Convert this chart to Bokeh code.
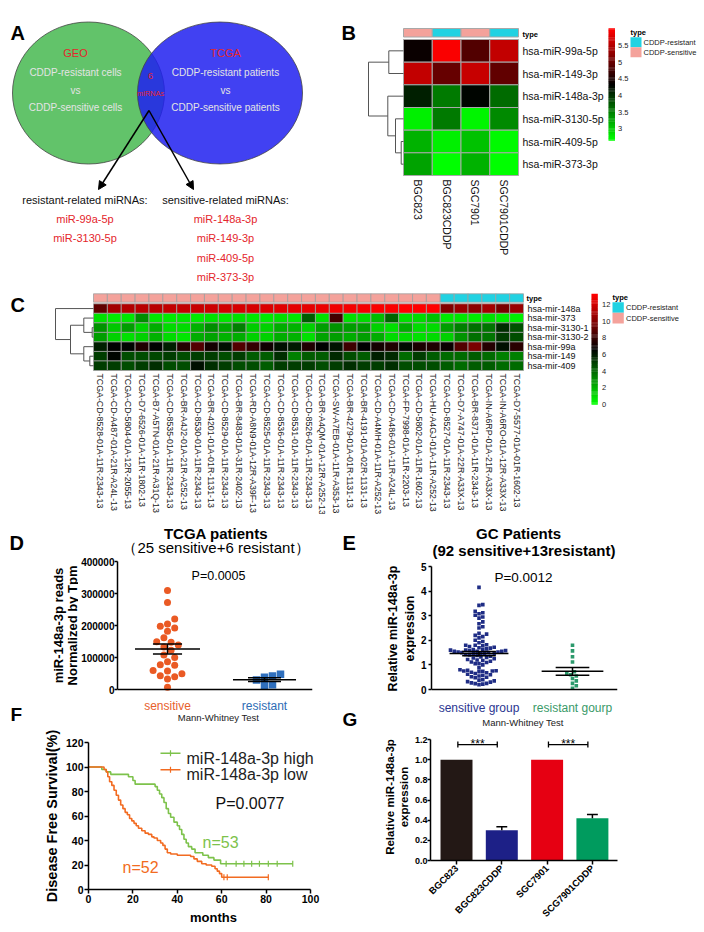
import math
import numpy as np
from bokeh.plotting import figure
from bokeh.models import Range1d, Label, Arrow, NormalHead, Span, ColumnDataSource, FixedTicker, BasicTickFormatter, PrintfTickFormatter
from bokeh.layouts import row, column
from bokeh.transform import linear_cmap
from bokeh.core.properties import value
from bokeh.embed import file_html
from bokeh.resources import INLINE

FONT = "Liberation Sans"
RED_TXT = "#e4262c"

# ---------------- Panel A data ----------------
venn_sets = ["GEO", "TCGA"]
venn_left_desc = ["CDDP-resistant cells", "vs", "CDDP-sensitive cells"]
venn_right_desc = ["CDDP-resistant patients", "vs", "CDDP-sensitive patients"]
venn_overlap = ["6", "miRNAs"]
resistant_head = "resistant-related miRNAs:"
sensitive_head = "sensitive-related miRNAs:"
resistant_related = ["miR-99a-5p", "miR-3130-5p"]
sensitive_related = ["miR-148a-3p", "miR-149-3p", "miR-409-5p", "miR-373-3p"]

# ---------------- Panel B data ----------------
b_cols = ["BGC823", "BGC823CDDP", "SGC7901", "SGC7901CDDP"]
b_types = ["CDDP-sensitive", "CDDP-resistant", "CDDP-sensitive", "CDDP-resistant"]
b_rows = ["hsa-miR-99a-5p", "hsa-miR-149-3p", "hsa-miR-148a-3p", "hsa-miR-3130-5p", "hsa-miR-409-5p", "hsa-miR-373-3p"]
b_vals = [
    [4.40, 5.95, 4.85, 5.60],
    [5.58, 4.99, 5.62, 4.96],
    [4.12, 3.53, 4.30, 3.63],
    [2.75, 3.53, 2.72, 3.42],
    [3.17, 2.75, 3.06, 2.70],
    [3.28, 2.65, 3.17, 2.67],
]
b_merges = [(4, 5), (0, 1), (3, 6), (2, 8), (7, 9)]
b_heights = [2.3, 14.7, 8.0, 15.7, 35.0]
b_ticks = [3, 3.5, 4, 4.5, 5, 5.5]
b_low, b_high = 2.65, 6.01

# ---------------- Panel C data ----------------
c_cols = ["TCGA-CD-8528-01A-11R-2343-13", "TCGA-CD-A487-01A-21R-A24L-13", "TCGA-CD-5804-01A-12R-2055-13",
          "TCGA-D7-6526-01A-11R-1802-13", "TCGA-B7-A5TN-01A-21R-A31Q-13", "TCGA-CD-8535-01A-11R-2343-13",
          "TCGA-BR-A4J2-01A-21R-A252-13", "TCGA-CD-8530-01A-11R-2343-13", "TCGA-BR-4201-01A-01R-1131-13",
          "TCGA-CD-8529-01A-11R-2343-13", "TCGA-BR-8483-01A-31R-2402-13", "TCGA-RD-A8N9-01A-12R-A39F-13",
          "TCGA-CD-8525-01A-11R-2343-13", "TCGA-CD-8536-01A-11R-2343-13", "TCGA-CD-8531-01A-11R-2343-13",
          "TCGA-CD-8526-01A-11R-2343-13", "TCGA-BR-A4QM-01A-12R-A252-13", "TCGA-SW-A7EB-01A-11R-A353-13",
          "TCGA-BR-4279-01A-01R-1131-13", "TCGA-BR-4191-01A-02R-1131-13", "TCGA-CD-A4MH-01A-11R-A252-13",
          "TCGA-CD-A486-01A-11R-A24L-13", "TCGA-FP-7998-01A-11R-2203-13", "TCGA-CD-5802-01A-11R-1602-13",
          "TCGA-HU-A4GJ-01A-11R-A252-13", "TCGA-CD-8527-01A-11R-2343-13", "TCGA-D7-A747-01A-22R-A33X-13",
          "TCGA-BR-8371-01A-11R-2343-13", "TCGA-IN-A6RP-01A-21R-A33X-13", "TCGA-IN-A6RO-01A-12R-A33X-13",
          "TCGA-D7-5577-01A-01R-1602-13"]
c_types = ["CDDP-sensitive"] * 25 + ["CDDP-resistant"] * 6
c_rows = ["hsa-mir-148a", "hsa-mir-373", "hsa-mir-3130-1", "hsa-mir-3130-2", "hsa-mir-99a", "hsa-mir-149", "hsa-mir-409"]
c_vals = [
    [9.1, 10.9, 11.2, 11.3, 11.4, 11.6, 11.6, 11.8, 11.9, 12.0, 12.1, 12.2, 12.3, 12.4, 12.5, 12.6, 12.7, 12.8, 12.9, 13.0, 13.1, 13.1, 13.2, 13.2, 13.2, 9.9, 10.6, 10.2, 10.8, 9.8, 10.6],
    [0.8, 0.6, 0.7, 3.0, 0.7, 0.6, 0.7, 0.6, 0.8, 0.7, 0.8, 0.7, 0.6, 0.8, 0.7, 4.3, 0.9, 8.4, 0.8, 1.0, 1.8, 4.0, 0.9, 1.0, 1.6, 0.6, 0.7, 0.6, 0.8, 0.6, 0.5],
    [2.8, 1.5, 2.5, 1.3, 2.2, 1.0, 1.0, 2.0, 3.0, 2.3, 3.3, 1.4, 1.2, 2.2, 2.0, 1.2, 2.6, 2.8, 2.6, 2.5, 1.2, 0.9, 2.2, 1.0, 1.0, 2.6, 3.3, 3.8, 3.6, 5.5, 4.5],
    [2.5, 1.2, 0.9, 1.2, 2.0, 1.0, 0.7, 2.2, 2.4, 2.0, 2.2, 1.3, 1.2, 2.2, 2.0, 0.8, 2.4, 2.6, 2.2, 2.6, 2.2, 1.0, 1.0, 0.9, 1.0, 1.2, 2.8, 3.8, 3.6, 5.0, 4.6],
    [5.8, 6.6, 6.5, 7.4, 6.6, 5.9, 7.5, 8.7, 7.2, 6.2, 8.7, 8.0, 7.0, 6.2, 6.0, 7.4, 6.6, 6.1, 8.2, 6.7, 7.2, 7.4, 6.4, 7.3, 7.4, 6.9, 8.8, 9.8, 7.6, 6.2, 7.7],
    [5.1, 6.5, 4.7, 4.7, 4.8, 5.1, 4.7, 5.1, 5.1, 4.7, 5.1, 4.3, 4.3, 5.5, 3.4, 4.3, 4.3, 5.6, 4.7, 4.3, 5.9, 5.6, 3.9, 5.1, 4.3, 3.9, 3.9, 4.3, 3.9, 3.4, 3.4],
    [5.1, 5.1, 4.7, 5.1, 5.5, 4.7, 4.7, 6.3, 5.5, 5.1, 4.7, 4.7, 4.3, 5.1, 5.1, 5.1, 4.7, 5.1, 5.5, 5.1, 5.1, 5.5, 4.7, 4.7, 4.7, 4.3, 3.9, 4.3, 4.3, 3.9, 3.9],
]
c_merges = [(2, 3), (5, 6), (1, 7), (4, 8), (9, 10), (0, 11)]
c_heights = [1.3, 3.7, 9.7, 9.7, 23.0, 38.0]
c_ticks = [0, 2, 4, 6, 8, 10, 12]
c_low, c_high = 0.0, 13.27

TYPE_COLORS = {"CDDP-resistant": "#21d2e2", "CDDP-sensitive": "#f4a29b"}
legend_types = ["CDDP-resistant", "CDDP-sensitive"]

# ---------------- Panel D data ----------------
d_cats = ["sensitive", "resistant"]
d_cat_colors = ["#e8602c", "#2d6cb5"]
d_sens = [309000, 272000, 220000, 205000, 198000, 192000, 182000, 162000, 149000, 148000, 139000, 133000, 123000,
          108000, 100000, 87000, 77000, 76000, 59000, 58000, 49000, 43000, 40000, 33000, 7000]
d_res = [48000, 42000, 38000, 30000, 15000, 12000]
d_yticks = [0, 100000, 200000, 300000, 400000]

# ---------------- Panel E data ----------------
e_cats = ["sensitive group", "resistant gourp"]
e_cat_colors = ["#2b3591", "#3a9a68"]
e_sens = [4.15, 3.45, 3.42, 3.18, 3.12, 3.08, 3.02, 2.95, 2.90, 2.75, 2.67, 2.55, 2.50, 2.28, 2.25, 2.20, 2.15, 2.10, 2.00, 1.95, 1.90,
          1.82, 1.80, 1.80, 1.78, 1.75, 1.72, 1.70, 1.68, 1.65, 1.62, 1.62, 1.60, 1.58, 1.58, 1.55, 1.55, 1.52, 1.52, 1.50, 1.48,
          1.48, 1.45, 1.42, 1.40, 1.38, 1.35, 1.32, 1.30, 1.28, 1.25, 1.22, 1.20, 1.18, 1.15,
          1.10, 1.05, 1.00, 1.45, 1.50, 1.55, 1.60, 0.80, 0.78, 0.76, 0.75, 0.74, 0.72, 0.70, 0.68, 0.65, 0.62, 0.60, 0.58,
          0.55, 0.52, 0.50, 0.48, 1.05, 1.12, 0.40, 0.38, 0.35, 0.32, 0.30, 0.88, 0.27, 0.25, 0.24, 0.22, 0.20, 0.75]
e_res = [1.80, 1.57, 1.33, 1.12, 0.72, 0.65, 0.60, 0.55, 0.45, 0.35, 0.25, 0.15, 0.05]
e_yticks = [0, 1, 2, 3, 4, 5]

# ---------------- Panel F data ----------------
f_high_t = [0, 6, 8, 10, 18, 20, 21, 30, 31, 32, 33, 34, 35, 36, 37, 38.5, 40, 41, 42, 43, 44, 45, 46.5, 48, 51.5, 54, 56.5, 59.5, 92]
f_high_s = [100, 98, 96, 94, 92, 89, 86, 84, 81, 78, 75, 71, 66, 62, 59, 55, 52, 49, 45, 41, 38, 35, 33, 30, 28, 26, 24, 21, 21]
f_high_cens = [62, 66.5, 70, 73.5, 77, 81, 85, 92]
f_low_t = [0, 7, 8, 8.7, 9.5, 10.5, 11.5, 12.5, 13.5, 14.5, 15.5, 16.5, 17.5, 18.5, 19.5, 20.5, 21.5, 22.5, 24, 25.5, 27,
           28.5, 29.5, 31, 32.5, 33.5, 34.5, 35.5, 37, 40, 46, 47.5, 49, 51, 53, 55.5, 57, 58, 59, 60, 81]
f_low_s = [100, 98, 96, 92, 88, 85, 81, 77, 73, 69, 66, 63, 61, 58, 56, 54, 52, 50, 48, 46, 45,
           43, 42, 40, 38, 36, 33, 30, 29, 28, 27, 25, 23, 21, 20, 19, 17, 15, 13, 10, 10]
f_low_cens = [61, 62.5, 81]
f_labels = ["miR-148a-3p high", "miR-148a-3p low"]
f_n = ["n=53", "n=52"]
f_xticks = [0, 20, 40, 60, 80, 100]
f_yticks = [0, 20, 40, 60, 80, 100, 120]

# ---------------- Panel G data ----------------
g_cats = ["BGC823", "BGC823CDDP", "SGC7901", "SCG7901CDDP"]
g_vals = [1.0, 0.30, 1.0, 0.42]
g_err = [0.0, 0.035, 0.0, 0.035]
g_colors = ["#231815", "#1d2087", "#e60012", "#009b5e"]
g_sig = [(0, 1, "***"), (2, 3, "***")]
g_yticks = [0, 0.2, 0.4, 0.6, 0.8, 1.0, 1.2]


# ---------------- helpers ----------------
def gbr_palette(n=101):
    out = []
    for i in range(n):
        t = i / (n - 1)
        if t <= 0.5:
            out.append("#%02x%02x%02x" % (0, int(round(255 * (1 - 2 * t))), 0))
        else:
            out.append("#%02x%02x%02x" % (int(round(255 * (2 * t - 1))), 0, 0))
    return out


PAL = gbr_palette()


def canvas_fig(W, H, xr, yr):
    p = figure(width=W, height=H, x_range=Range1d(*xr), y_range=Range1d(*yr), x_axis_type=None, y_axis_type=None,
               min_border=0, toolbar_location=None, output_backend="svg", title=None)
    p.outline_line_color = None
    return p


def strip(ox, oy, W, H):
    return canvas_fig(W, H, (ox, ox + W), (oy + H, oy))


def axis_fig(W, H, xr, yr, mb):
    p = figure(width=W, height=H, x_range=Range1d(*xr), y_range=Range1d(*yr), min_border_left=mb[0],
               min_border_right=mb[1], min_border_top=mb[2], min_border_bottom=mb[3],
               toolbar_location=None, output_backend="svg", title=None)
    p.outline_line_color = None
    p.xgrid.grid_line_color = None
    p.ygrid.grid_line_color = None
    for ax in p.axis:
        ax.axis_line_color = "black"
        ax.axis_line_width = 1.5
        ax.major_tick_line_color = "black"
        ax.major_tick_line_width = 1.5
        ax.major_tick_in = 0
        ax.major_tick_out = 4
        ax.minor_tick_line_color = None
        ax.major_label_text_font = FONT
        ax.major_label_text_font_style = "bold"
        ax.major_label_text_font_size = "10px"
        ax.major_label_text_color = "black"
        ax.major_label_standoff = 2
        ax.axis_label_text_font = FONT
        ax.axis_label_text_font_style = "bold"
        ax.axis_label_text_color = "black"
    return p


def lab(p, orig, x, y, text, size, color="black", bold=False, align="left", baseline="alphabetic", angle=0.0):
    ox, oy = orig
    p.add_layout(Label(x=x - ox, y=y - oy, x_units="canvas", y_units="canvas", text=text, text_font=FONT,
                       text_font_size=f"{size}px", text_font_style=("bold" if bold else "normal"),
                       text_color=color, text_align=align, text_baseline=baseline, angle=angle))


def gtext(p, xs, ys, texts, size, color="black", bold=False, align="left", baseline="middle", angle=0.0):
    p.text(x=xs, y=ys, text=texts, text_font=value(FONT), text_font_size=f"{size}px",
           text_font_style=("bold" if bold else "normal"), text_color=color, text_align=align,
           text_baseline=baseline, angle=angle)


def draw_heatmap(p, vals, low, high, grid_col, lw):
    nr, nc = len(vals), len(vals[0])
    src = ColumnDataSource(dict(
        x=[j + 0.5 for i in range(nr) for j in range(nc)],
        y=[i + 0.5 for i in range(nr) for j in range(nc)],
        v=[vals[i][j] for i in range(nr) for j in range(nc)]))
    p.rect("x", "y", 1, 1, source=src, fill_color=linear_cmap("v", PAL, low, high), line_color=grid_col, line_width=lw)


def draw_annotation(p, types, y0, y1, grid_col, lw):
    nc = len(types)
    p.rect(x=[j + 0.5 for j in range(nc)], y=[(y0 + y1) / 2] * nc, width=1, height=abs(y1 - y0),
           fill_color=[TYPE_COLORS[t] for t in types], line_color=grid_col, line_width=lw)


def draw_dendro(p, n, merges, heights, px_per_unit):
    pos = {i: i + 0.5 for i in range(n)}
    hgt = {i: 0.0 for i in range(n)}
    x0, y0, x1, y1 = [], [], [], []
    for k, (a, b) in enumerate(merges):
        h = heights[k]
        for c in (a, b):
            x0.append(-hgt[c] / px_per_unit); y0.append(pos[c]); x1.append(-h / px_per_unit); y1.append(pos[c])
        x0.append(-h / px_per_unit); y0.append(pos[a]); x1.append(-h / px_per_unit); y1.append(pos[b])
        pos[n + k] = (pos[a] + pos[b]) / 2
        hgt[n + k] = h
    p.segment(x0=x0, y0=y0, x1=x1, y1=y1, line_color="#555555", line_width=1)


def draw_colorbar(p, X, Y, px0, px1, py_top, py_bot, low, high, ticks, label_px, fs):
    n = len(PAL)
    h = (py_bot - py_top) / n
    ys = [Y(py_bot - (k + 0.5) * h) for k in range(n)]
    p.rect(x=[X((px0 + px1) / 2)] * n, y=ys, width=X(px1) - X(px0), height=abs(Y(py_top + h) - Y(py_top)) * 1.3,
           fill_color=PAL, line_color=None)
    ty = [Y(py_bot - (t - low) / (high - low) * (py_bot - py_top)) for t in ticks]
    gtext(p, [X(label_px)] * len(ticks), ty, ["%g" % t for t in ticks], fs, color="#222222")


def draw_type_legend(p, X, Y, px, py_title, py_top, sw_w, sw_h, label_px, fs):
    gtext(p, [X(px)], [Y(py_title)], ["type"], fs, bold=True)
    for k, t in enumerate(legend_types):
        yc = py_top + (k + 0.5) * sw_h
        p.rect(x=[X(px + sw_w / 2)], y=[Y(yc)], width=X(px + sw_w) - X(px), height=abs(Y(py_top + sw_h) - Y(py_top)),
               fill_color=TYPE_COLORS[t], line_color=None)
        gtext(p, [X(label_px)], [Y(yc)], [t], fs, color="#222222")


def swarm(vals, ppu, diam, step):
    vals = np.asarray(vals, float)
    order = np.argsort(vals, kind="stable")
    placed = []
    offs = np.zeros(len(vals))
    for i in order:
        y = vals[i] * ppu
        k = 0
        while True:
            m = (k + 1) // 2
            cand = 0.0 if k == 0 else (m * step if k % 2 == 1 else -m * step)
            if all((cand - qx) ** 2 + (y - qy) ** 2 >= diam ** 2 for qx, qy in placed):
                break
            k += 1
        placed.append((cand, y))
        offs[i] = cand
    return offs


def mean_sem(p, xc, vals, hw, sw):
    v = np.asarray(vals, float)
    m = v.mean()
    s = v.std(ddof=1) / math.sqrt(len(v))
    p.segment(x0=[xc - hw, xc - sw, xc - sw, xc], y0=[m, m + s, m - s, m - s],
              x1=[xc + hw, xc + sw, xc + sw, xc], y1=[m, m + s, m - s, m + s], line_color="black", line_width=1.5)


def surv_at(ts, ss, t):
    idx = max(i for i in range(len(ts)) if ts[i] <= t)
    return ss[idx]


# ================= Panel A (page x 0..336, y 0..290) =================
pA = strip(0, 0, 336, 290)
pA.ellipse(x=[88], y=[92.5], width=[152], height=[142], fill_color="#62c36a", line_color="#444444", line_width=0.8)
pA.ellipse(x=[219.5], y=[92.5], width=[165], height=[142], fill_color="#2020f0", fill_alpha=0.85,
           line_color="#444444", line_width=0.8)
gtext(pA, [75, 225], [52, 52], venn_sets, 11, color=RED_TXT, align="center")
gtext(pA, [75] * 3, [72, 90, 107], venn_left_desc, 10, color="#e4e4e4", align="center")
gtext(pA, [225] * 3, [72, 90, 107], venn_right_desc, 10, color="#e4e4e4", align="center")
gtext(pA, [150], [75], [venn_overlap[0]], 9, color=RED_TXT, align="center")
gtext(pA, [150], [93], [venn_overlap[1]], 7.5, color=RED_TXT, align="center")
for xe in (98, 193):
    pA.add_layout(Arrow(end=NormalHead(size=8, fill_color="black", line_color="black"),
                        x_start=148.5, y_start=110, x_end=xe, y_end=189, line_width=1.5, line_color="black"))
gtext(pA, [84.5], [199], [resistant_head], 11, color="#111111", align="center")
gtext(pA, [225], [199], [sensitive_head], 11, color="#111111", align="center")
gtext(pA, [84.5] * len(resistant_related), [218 + 19.3 * k for k in range(len(resistant_related))],
      resistant_related, 11, color=RED_TXT, align="center")
gtext(pA, [225] * len(sensitive_related), [218 + 19.5 * k for k in range(len(sensitive_related))],
      sensitive_related, 11, color=RED_TXT, align="center")
lab(pA, (0, 0), 10, 32, "A", 20, bold=True)

# ================= Panel B (page x 336..704, y 0..290) =================
bx = lambda px: (px - 403.0) / 28.75
by = lambda py: (py - 39.0) / 22.667
pB = canvas_fig(368, 290, (bx(336), bx(704)), (by(290), by(0)))
draw_heatmap(pB, b_vals, b_low, b_high, "#a8a8a8", 1)
draw_annotation(pB, b_types, by(28), by(36.5), "#a8a8a8", 1)
draw_dendro(pB, len(b_rows), b_merges, b_heights, 28.75)
gtext(pB, [bx(522)] * len(b_rows), [i + 0.5 for i in range(len(b_rows))], b_rows, 10.5, color="#111111")
gtext(pB, [j + 0.5 for j in range(len(b_cols))], [by(179)] * len(b_cols), b_cols, 10.5, color="#111111",
      angle=-math.pi / 2)
gtext(pB, [bx(522)], [by(33.5)], ["type"], 7.5, bold=True)
draw_colorbar(pB, bx, by, 608, 614.5, 28, 140, b_low, b_high, b_ticks, 617.5, 7.5)
draw_type_legend(pB, bx, by, 630, 31.5, 36.7, 11, 10, 643, 7.5)
lab(pB, (336, 0), 341, 32, "B", 20, bold=True)

# ================= Panel C (page x 0..704, y 290..514) =================
cx = lambda px: (px - 93.0) / 13.871
cy = lambda py: (py - 303.3) / 9.529
pC = canvas_fig(704, 224, (cx(0), cx(704)), (cy(514), cy(290)))
draw_heatmap(pC, c_vals, c_low, c_high, "#a0a0a0", 0.8)
draw_annotation(pC, c_types, cy(293.3), cy(301.7), "#a0a0a0", 0.8)
draw_dendro(pC, len(c_rows), c_merges, c_heights, 13.871)
gtext(pC, [cx(527)] * len(c_rows), [i + 0.5 for i in range(len(c_rows))], c_rows, 9, color="#111111")
gtext(pC, [j + 0.5 for j in range(len(c_cols))], [cy(373)] * len(c_cols), c_cols, 8.8, color="#222222",
      angle=-math.pi / 2)
gtext(pC, [cx(526)], [cy(297.5)], ["type"], 7.5, bold=True)
draw_colorbar(pC, cx, cy, 591, 597.3, 293.3, 404, c_low, c_high, c_ticks, 601.5, 7.5)
draw_type_legend(pC, cx, cy, 612, 296.5, 301.7, 11.3, 10.6, 625.5, 7.5)
lab(pC, (0, 290), 10, 304, "C", 20, bold=True)

# ================= Panel D (page x 0..340, y 514..724) =================
DL_ORIG = (0, 514)
pDl = strip(0, 514, 78, 210)
lab(pDl, DL_ORIG, 9, 542, "D", 20, bold=True)
lab(pDl, DL_ORIG, 58, 625, "miR-148a-3p reads", 13, bold=True, align="center", baseline="middle", angle=math.pi / 2)
lab(pDl, DL_ORIG, 71.5, 625, "Normalized by Tpm", 13, bold=True, align="center", baseline="middle", angle=math.pi / 2)
lab(pDl, DL_ORIG, 10, 713.5, "F", 19, bold=True, baseline="middle")

D_ORIG = (78, 514)
D_FL, D_X0, D_PPU = 117.0, 0.4845, 97.0          # frame left (page px), x at frame left, px per category
D_YPPU = 128.0 / 400000
pD = axis_fig(262, 210, (D_X0, D_X0 + (312 - D_FL) / D_PPU),
              (-(724 - 689) / D_YPPU, 400000 + (561 - 516) / D_YPPU), (39, 28, 2, 0))
pD.xaxis.visible = False
pD.add_layout(Span(location=0, dimension="width", line_color="black", line_width=1.5))
pD.yaxis.ticker = FixedTicker(ticks=d_yticks)
pD.yaxis.bounds = (0, 400000)
pD.yaxis.formatter = BasicTickFormatter(use_scientific=False)
pD.yaxis.major_tick_out = 3
pD.yaxis.major_label_standoff = 0
offs = swarm(d_sens, D_YPPU, 7.2, 3.6)
pD.scatter(x=1 + offs / D_PPU, y=d_sens, marker="circle", size=7, fill_color="#ea5a24", line_color=None)
offs = swarm(d_res, D_YPPU, 8.0, 4.0)
pD.scatter(x=2 + offs / D_PPU, y=d_res, marker="square", size=7.5, fill_color="#2f6fbd", line_color=None)
mean_sem(pD, 1, d_sens, 0.335, 0.15)
mean_sem(pD, 2, d_res, 0.325, 0.17)
lab(pD, D_ORIG, 215.5, 533, "TCGA patients", 15, bold=True, align="center")
lab(pD, D_ORIG, 215.5, 547, "（25 sensitive+6 resistant）", 15, align="center", baseline="middle")
lab(pD, D_ORIG, 218, 575, "P=0.0005", 12.5, align="center")
for i, (c, col) in enumerate(zip(d_cats, d_cat_colors)):
    lab(pD, D_ORIG, D_FL + (i + 1 - D_X0) * D_PPU, 705, c, 12, color=col, align="center")
lab(pD, D_ORIG, 218, 716.5, "Mann-Whitney Test", 9.5, color="#222222", align="center")

# ================= Panel E (page x 340..704, y 514..731) =================
EL_ORIG = (340, 514)
pEl = strip(340, 514, 76, 217)
lab(pEl, EL_ORIG, 342, 542, "E", 20, bold=True)
lab(pEl, EL_ORIG, 392.5, 628, "Relative miR-148a-3p", 12.5, bold=True, align="center", baseline="middle",
    angle=math.pi / 2)
lab(pEl, EL_ORIG, 409.5, 628, "expression", 12.5, bold=True, align="center", baseline="middle", angle=math.pi / 2)
lab(pEl, EL_ORIG, 342, 719, "G", 19, bold=True, baseline="middle")

E_ORIG = (416, 514)
E_FL, E_X0, E_PPU = 431.0, 0.492, 93.5
E_YPPU = 24.6
pE = axis_fig(288, 217, (E_X0, E_X0 + 186 / E_PPU), (-(731 - 689) / E_YPPU, 5 + (566 - 516) / E_YPPU),
              (15, 87, 2, 0))
pE.xaxis.visible = False
pE.add_layout(Span(location=0, dimension="width", line_color="black", line_width=1.5))
pE.yaxis.ticker = FixedTicker(ticks=e_yticks)
pE.yaxis.bounds = (0, 5)
pE.yaxis.major_tick_out = 3
offs = swarm(e_sens, E_YPPU, 3.8, 1.9)
pE.scatter(x=1 + offs / E_PPU, y=e_sens, marker="square", size=3.6, fill_color="#1f2d85", line_color=None)
offs = swarm(e_res, E_YPPU, 3.8, 1.9)
pE.scatter(x=2 + offs / E_PPU, y=e_res, marker="square", size=3.6, fill_color="#2c9a6c", line_color=None)
mean_sem(pE, 1, e_sens, 0.315, 0.18)
mean_sem(pE, 2, e_res, 0.33, 0.18)
lab(pE, E_ORIG, 518, 533, "GC Patients", 15, bold=True, align="center")
lab(pE, E_ORIG, 523.5, 550, "(92 sensitive+13resistant)", 15, bold=True, align="center")
lab(pE, E_ORIG, 523, 576.5, "P=0.0012", 13.5, align="center")
for i, (c, col) in enumerate(zip(e_cats, e_cat_colors)):
    lab(pE, E_ORIG, E_FL + (i + 1 - E_X0) * E_PPU, 707, c, 12, color=col, align="center")
lab(pE, E_ORIG, 522.5, 721.5, "Mann-Whitney Test", 9.5, color="#222222", align="center")

# ================= Panel F (page x 0..340, y 724..930) =================
F_ORIG = (0, 724)
pF = axis_fig(340, 206, (0, 250 / 2.22), (0, 120), (88, 2, 18, 41))
pF.xaxis.ticker = FixedTicker(ticks=f_xticks)
pF.xaxis.bounds = (0, 100)
pF.yaxis.ticker = FixedTicker(ticks=f_yticks)
for ax in pF.axis:
    ax.major_label_text_font_size = "10.5px"
    ax.major_label_standoff = 1
pF.xaxis.axis_label = "months"
pF.xaxis.axis_label_text_font_size = "13px"
pF.xaxis.axis_label_standoff = 4
pF.yaxis.axis_label = "Disease Free Survival(%)"
pF.yaxis.axis_label_text_font_size = "14.5px"
pF.yaxis.axis_label_standoff = 3
GREEN, ORANGE = "#7dc24b", "#f26b21"
pF.step(x=f_high_t, y=f_high_s, mode="after", line_color=GREEN, line_width=1.6)
pF.step(x=f_low_t, y=f_low_s, mode="after", line_color=ORANGE, line_width=1.6)
pF.scatter(x=f_high_cens, y=[surv_at(f_high_t, f_high_s, t) for t in f_high_cens], marker="dash",
           angle=math.pi / 2, size=6, line_color=GREEN, line_width=1.2)
pF.scatter(x=f_low_cens, y=[surv_at(f_low_t, f_low_s, t) for t in f_low_cens], marker="dash",
           angle=math.pi / 2, size=6, line_color=ORANGE, line_width=1.2)
fxd = lambda px: (px - 88.0) / 2.22
fyd = lambda py: (889.0 - py) / 1.225
for col, py in ((GREEN, 752.7), (ORANGE, 769.3)):
    pF.segment(x0=[fxd(160)], y0=[fyd(py)], x1=[fxd(180)], y1=[fyd(py)], line_color=col, line_width=1.6)
    pF.scatter(x=[fxd(170)], y=[fyd(py)], marker="dash", angle=math.pi / 2, size=6, line_color=col, line_width=1.2)
lab(pF, F_ORIG, 186, 757.5, f_labels[0], 16, color="#222222")
lab(pF, F_ORIG, 186, 774, f_labels[1], 16, color="#222222")
lab(pF, F_ORIG, 215, 803, "P=0.0077", 16, color="#111111")
lab(pF, F_ORIG, 202, 841.5, f_n[0], 16, color=GREEN)
lab(pF, F_ORIG, 122, 866.5, f_n[1], 16, color=ORANGE)

# ================= Panel G (page x 340..704, y 731..930) =================
pG = axis_fig(364, 199, (0.426, 4.554), (0, 1.2 + 6 / 100.8), (90, 87, 2, 70))
gx = [i + 1 for i in range(len(g_cats))]
pG.vbar(x=gx, top=g_vals, width=0.706, fill_color=g_colors, line_color=None)
ex = [gx[i] for i in range(len(g_cats)) if g_err[i] > 0]
ev = [g_vals[i] for i in range(len(g_cats)) if g_err[i] > 0]
ee = [g_vals[i] + g_err[i] for i in range(len(g_cats)) if g_err[i] > 0]
pG.segment(x0=ex, y0=ev, x1=ex, y1=ee, line_color="black", line_width=1.5)
pG.segment(x0=[x - 0.12 for x in ex], y0=ee, x1=[x + 0.12 for x in ex], y1=ee, line_color="black", line_width=1.5)
for a, b, s in g_sig:
    xa, xb = gx[a] + 0.03, gx[b] - 0.1
    pG.segment(x0=[xa, xa, xb], y0=[1.15, 1.12, 1.12], x1=[xb, xa, xb], y1=[1.15, 1.18, 1.18],
               line_color="black", line_width=1.3)
    gtext(pG, [(xa + xb) / 2], [1.157], [s], 12, align="center", baseline="alphabetic")
pG.xaxis.ticker = FixedTicker(ticks=gx)
pG.xaxis.major_label_overrides = {gx[i]: g_cats[i] for i in range(len(g_cats))}
pG.xaxis.major_label_orientation = math.pi / 4
pG.xaxis.major_label_text_font_size = "9.5px"
pG.yaxis.ticker = FixedTicker(ticks=g_yticks)
pG.yaxis.bounds = (0, 1.2)
pG.yaxis.formatter = PrintfTickFormatter(format="%.1f")
pG.yaxis.major_label_text_font_size = "9px"
pG.yaxis.major_tick_out = 3
pG.yaxis.major_label_standoff = 0
pG.yaxis.axis_label = "Relative miR-148a-3p\nexpression"
pG.yaxis.axis_label_text_font_size = "11.5px"
pG.yaxis.axis_label_text_line_height = 1.15
pG.yaxis.axis_label_standoff = 2

left_col = column(row(pDl, pD), pF)
right_col = column(row(pEl, pE), pG)
layout = column(row(pA, pB), pC, row(left_col, right_col))
open("out.html", "w").write(file_html(layout, INLINE))
